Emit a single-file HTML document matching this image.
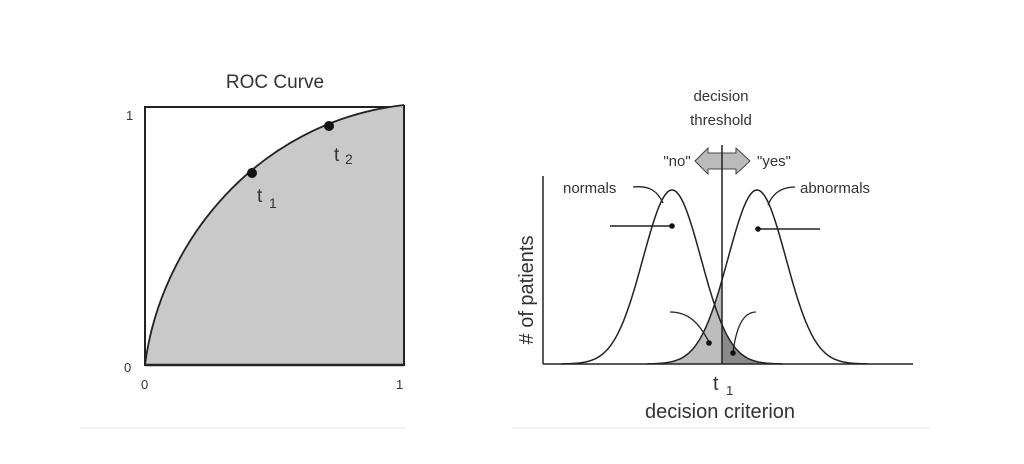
<!DOCTYPE html>
<html><head><style>
body{margin:0;background:#fff;width:1024px;height:459px;overflow:hidden}
text{font-family:"Liberation Sans",Arial,sans-serif;fill:#333}
</style></head><body>
<svg id="s" width="1024" height="459" viewBox="0 0 1024 459">
<line x1="80" y1="428" x2="405" y2="428" stroke="#eee" stroke-width="1.5"/>
<line x1="512" y1="428" x2="930" y2="428" stroke="#eee" stroke-width="1.5"/>
<!-- ROC -->
<text x="275" y="88" font-size="19" text-anchor="middle">ROC Curve</text>
<rect x="145" y="107" width="259" height="258" fill="#fff" stroke="#222" stroke-width="2"/>
<path d="M145,365 C160,245 255,122 404,105 L404,365 Z" fill="#c9c9c9" stroke="none"/>
<path d="M145,365 C160,245 255,122 404,105" fill="none" stroke="#222" stroke-width="1.8"/>
<line x1="404" y1="105" x2="404" y2="365" stroke="#222" stroke-width="2"/>
<line x1="145" y1="365" x2="404" y2="365" stroke="#222" stroke-width="2.5"/>
<circle cx="252" cy="173" r="5" fill="#111"/>
<circle cx="329" cy="126" r="5" fill="#111"/>
<text x="257" y="202" font-size="19">t</text><text x="269" y="208" font-size="14">1</text>
<text x="334" y="161" font-size="19">t</text><text x="345" y="164" font-size="14">2</text>
<text x="126" y="120" font-size="13" fill="#555">1</text>
<text x="124" y="372" font-size="13" fill="#555">0</text>
<text x="141" y="389" font-size="13" fill="#555">0</text>
<text x="396" y="389" font-size="13" fill="#555">1</text>
<!-- right -->
<text x="721" y="101" font-size="15" text-anchor="middle">decision</text>
<text x="721" y="125" font-size="15" text-anchor="middle">threshold</text>
<g id="shade"></g>
<path d="M695,161 L708,148 L708,153 L736,153 L736,148 L750,161 L736,174 L736,169 L708,169 L708,174 Z" fill="#bbb" stroke="#444" stroke-width="1"/>
<text x="677" y="166" font-size="15" text-anchor="middle">"no"</text>
<text x="774" y="166" font-size="15" text-anchor="middle">"yes"</text>
<line x1="722" y1="145" x2="722" y2="364" stroke="#222" stroke-width="1.5"/>
<line x1="543" y1="176" x2="543" y2="364" stroke="#222" stroke-width="1.5"/>
<line x1="543" y1="364" x2="913" y2="364" stroke="#222" stroke-width="1.5"/>
<g id="curves"></g>
<text x="563" y="193" font-size="15">normals</text>
<path d="M633,187 C650,185 658,192 663,203" fill="none" stroke="#222" stroke-width="1.3"/>
<text x="800" y="193" font-size="15">abnormals</text>
<path d="M795,187 C780,187 772,195 768,205" fill="none" stroke="#222" stroke-width="1.3"/>
<line x1="610" y1="226" x2="672" y2="226" stroke="#222" stroke-width="1.5"/><circle cx="672" cy="226" r="2.8" fill="#111"/>
<line x1="758" y1="229" x2="820" y2="229" stroke="#222" stroke-width="1.5"/><circle cx="758" cy="229" r="2.8" fill="#111"/>
<path d="M670,312 C690,312 700,325 709,342" fill="none" stroke="#222" stroke-width="1.3"/><circle cx="709" cy="343" r="2.8" fill="#111"/>
<path d="M756,312 C742,312 736,330 733,352" fill="none" stroke="#222" stroke-width="1.3"/><circle cx="733" cy="353" r="2.8" fill="#111"/>
<text x="713" y="390" font-size="20">t</text><text x="726" y="395" font-size="13">1</text>
<text x="720" y="418" font-size="20" text-anchor="middle">decision criterion</text>
<text transform="translate(533,290) rotate(-90)" font-size="20" text-anchor="middle"># of patients</text>
</svg>
<script>
var base=364,h=174,sg=29,T=722;
function g(x,m){return base-h*Math.exp(-(x-m)*(x-m)/(2*sg*sg));}
function curve(m){var d="";for(var x=m-110;x<=m+110;x+=1)d+=(d?"L":"M")+x+","+g(x,m).toFixed(1);return d;}
var NS="http://www.w3.org/2000/svg";
function add(p,par,fill,stroke){var e=document.createElementNS(NS,"path");e.setAttribute("d",p);e.setAttribute("fill",fill);e.setAttribute("stroke",stroke);e.setAttribute("stroke-width","1.5");document.getElementById(par).appendChild(e);}
var a="M"+(757-110)+","+base;for(var x=757-110;x<=T;x++)a+="L"+x+","+g(x,757).toFixed(1);a+="L"+T+","+base+"Z";
add(a,"shade","#bdbdbd","none");
var b="M"+T+","+base;for(var x=T;x<=672+110;x++)b+="L"+x+","+g(x,672).toFixed(1);b+="L"+(672+110)+","+base+"Z";
add(b,"shade","#8a8a8a","none");
add(curve(672),"curves","none","#222");add(curve(757),"curves","none","#222");
</script>
</body></html>
